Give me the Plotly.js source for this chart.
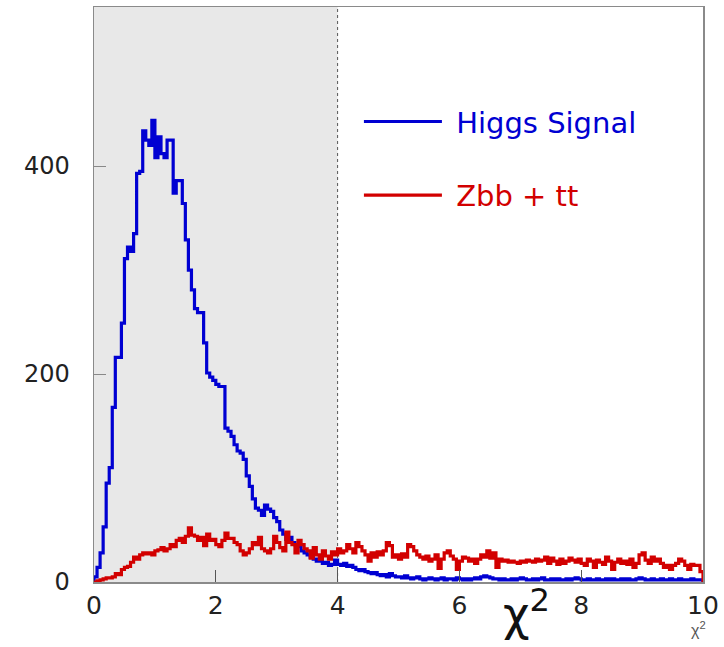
<!DOCTYPE html>
<html>
<head>
<meta charset="utf-8">
<script src="https://cdn.plot.ly/plotly-3.0.1.min.js"></script>
<style>
  html, body { margin: 0; padding: 0; background: #fff; }
  #plot { width: 724px; height: 647px; }
</style>
</head>
<body>
<div id="plot"></div>
<script>
// chi-square distribution of the kinematic fit, 200 bins on [0, 10]
const binWidth = 0.05;
const xMin = 0;
const xMax = 10;
const cutValue = 4;

// Higgs signal counts per bin
const higgsSignal = [
  5, 14, 28, 53, 95, 110, 168, 216, 216, 249,
  311, 322, 318, 335, 393, 395, 434, 425, 420, 444,
  408, 428, 412, 408, 425, 425, 374, 386, 386, 364,
  329, 300, 281, 263, 259, 259, 230, 201, 197, 194,
  190, 188, 188, 148, 145, 140, 132, 126, 124, 118,
  102, 92, 80, 71, 69, 64, 74, 70, 68, 62,
  58, 50, 46, 41, 43, 38, 36, 34, 30, 28,
  26, 24, 22, 20, 22, 18, 19, 16, 17, 21,
  17, 16, 18, 15, 16, 14, 12, 11, 12, 10,
  9, 8, 9, 7, 6, 7, 5, 8, 6, 5,
  5, 4, 6, 4, 3, 4, 5, 3, 2, 3,
  4, 3, 2, 3, 4, 2, 3, 3, 2, 4,
  3, 2, 3, 2, 3, 4, 3, 5, 6, 5,
  4, 3, 3, 2, 3, 2, 2, 3, 2, 3,
  4, 3, 2, 2, 3, 2, 3, 4, 2, 2,
  3, 2, 3, 2, 2, 3, 2, 3, 4, 3,
  2, 2, 3, 2, 2, 3, 2, 2, 3, 2,
  3, 2, 2, 3, 2, 3, 2, 2, 3, 4,
  3, 2, 2, 3, 2, 2, 3, 2, 2, 3,
  2, 2, 3, 2, 2, 2, 3, 2, 2, 2
];

// Zbb + tt background counts per bin
const zbbTtBackground = [
  0, 1, 2, 3, 4, 4, 5, 8, 7, 12,
  14, 15, 19, 24, 22, 26, 28, 27, 28, 26,
  30, 31, 33, 30, 32, 36, 34, 40, 42, 38,
  44, 52, 45, 44, 40, 43, 35, 46, 40, 41,
  36, 34, 40, 47, 42, 42, 38, 36, 30, 26,
  28, 32, 38, 36, 43, 32, 30, 28, 32, 44,
  38, 33, 30, 48, 38, 36, 28, 40, 36, 32,
  30, 23, 33, 26, 22, 30, 25, 22, 29, 26,
  32, 28, 30, 36, 32, 28, 38, 34, 30, 26,
  20, 28, 24, 29, 26, 30, 38, 35, 24, 26,
  22, 27, 24, 36, 34, 30, 26, 24, 22, 25,
  20, 22, 26, 13, 22, 28, 30, 25, 22, 12,
  20, 24, 23, 20, 22, 18, 22, 26, 24, 30,
  23, 28, 14, 22, 20, 21, 19, 20, 19, 18,
  20, 19, 21, 20, 19, 22, 20, 21, 24, 18,
  23, 20, 17, 22, 18, 20, 23, 21, 19, 22,
  18, 16, 22, 20, 14, 21, 19, 17, 24, 20,
  12, 19, 22, 18, 20, 17, 22, 14, 18, 26,
  28, 21, 18, 24, 20, 22, 18, 14, 16, 12,
  16, 18, 22, 20, 16, 12, 17, 16, 16, 10
];

const xTicks = [0, 2, 4, 6, 8, 10];
const yTicks = [0, 200, 400];

const signalColor = '#0000d2';
const backgroundColor = '#d20000';

// Outline of a histogram: closed at both ends down to zero
function histOutline(counts) {
  const xs = [xMin];
  const ys = [0];
  counts.forEach((c, i) => {
    xs.push(xMin + i * binWidth);
    ys.push(c);
  });
  xs.push(xMin + counts.length * binWidth);
  ys.push(counts[counts.length - 1]);
  xs.push(xMin + counts.length * binWidth);
  ys.push(0);
  return { xs, ys };
}

const sig = histOutline(higgsSignal);
const bkg = histOutline(zbbTtBackground);

// legend label with a little extra room after the line sample
function legendLabel(text, color) {
  return '<span style="color:' + color + '">\u00a0' + text + '</span>';
}

const traces = [
  {
    x: sig.xs, y: sig.ys, type: 'scatter', mode: 'lines',
    line: { shape: 'hv', color: signalColor, width: 3.2 },
    name: legendLabel('Higgs Signal', signalColor),
    legendgroup: 'sig', hoverinfo: 'skip'
  },
  {
    x: bkg.xs, y: bkg.ys, type: 'scatter', mode: 'lines',
    line: { shape: 'hv', color: backgroundColor, width: 3.2 },
    name: legendLabel('Zbb + tt', backgroundColor),
    legendgroup: 'bkg', hoverinfo: 'skip'
  }
];

const layout = {
  width: 724, height: 647,
  margin: { l: 94, r: 21, t: 7, b: 65 },
  paper_bgcolor: '#ffffff',
  plot_bgcolor: '#ffffff',
  font: { family: 'DejaVu Sans, sans-serif', color: '#222222' },
  showlegend: true,
  legend: {
    x: 0.435, y: 0.845, xanchor: 'left', yanchor: 'top',
    bgcolor: 'rgba(0,0,0,0)', borderwidth: 0,
    font: { size: 29, family: 'DejaVu Sans, sans-serif' },
    itemwidth: 78, tracegroupgap: 33, traceorder: 'grouped'
  },
  xaxis: {
    range: [xMin, xMax], tickvals: xTicks, ticktext: xTicks.map(String),
    ticks: 'inside', ticklen: 12, tickcolor: '#555555', tickwidth: 1,
    showline: true, linecolor: '#8a8a8a', linewidth: 1.5, mirror: true,
    showgrid: false, zeroline: false,
    tickfont: { size: 25, color: '#222222' }
  },
  yaxis: {
    range: [0, 553], tickvals: yTicks, ticktext: yTicks.map(String),
    ticks: 'inside', ticklen: 12, tickcolor: '#888888', tickwidth: 1,
    showline: true, linecolor: '#8a8a8a', linewidth: 1.5, mirror: true,
    showgrid: false, zeroline: false, ticklabelstandoff: 18,
    tickfont: { size: 24, color: '#222222' }
  },
  shapes: [
    // shaded region below the cut
    {
      type: 'rect', xref: 'x', yref: 'paper', x0: xMin, x1: cutValue, y0: 0, y1: 1,
      fillcolor: '#e8e8e8', line: { width: 0 }, layer: 'below'
    },
    // cut line
    {
      type: 'line', xref: 'x', yref: 'paper', x0: cutValue, x1: cutValue, y0: 0, y1: 1,
      line: { color: '#555555', width: 1, dash: 'dot' }, layer: 'below'
    }
  ],
  annotations: [
    {
      text: 'χ<sup>2</sup>', xref: 'paper', yref: 'paper', x: 0.71, y: 0.005,
      xanchor: 'center', yanchor: 'top', showarrow: false,
      font: { size: 46, family: 'DejaVu Sans, sans-serif', color: '#111111' }
    },
    {
      text: 'χ<sup>2</sup>', xref: 'paper', yref: 'paper', x: 0.993, y: -0.06,
      xanchor: 'center', yanchor: 'top', showarrow: false,
      font: { size: 16, family: 'Liberation Sans, sans-serif', color: '#555555' }
    }
  ]
};

Plotly.newPlot('plot', traces, layout, { staticPlot: true, displayModeBar: false });
</script>
</body>
</html>
